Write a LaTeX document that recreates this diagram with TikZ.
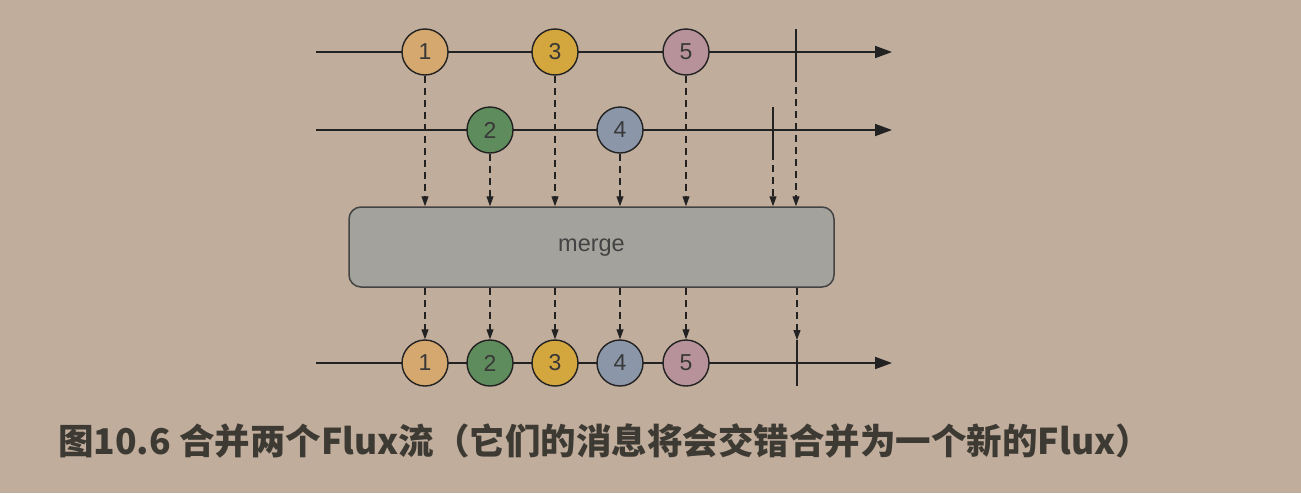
\documentclass[tikz,border=0pt]{standalone}
\usepackage{fontspec}
\setmainfont{Liberation Sans}
\newfontfamily\cjk{Noto Sans CJK SC}
\usetikzlibrary{arrows.meta}
\definecolor{bg}{HTML}{C0AD9C}
\definecolor{ink}{HTML}{222222}
\definecolor{cA}{HTML}{D4A86E}
\definecolor{cB}{HTML}{5F8C5C}
\definecolor{cC}{HTML}{D3A63E}
\definecolor{cD}{HTML}{8B97A8}
\definecolor{cE}{HTML}{B8929A}
\definecolor{boxfill}{HTML}{A3A29C}
\definecolor{captext}{HTML}{3D3A34}
\tikzset{
  marble/.style={circle, draw=ink, line width=1.4pt, minimum size=46pt, inner sep=0pt, font=\fontsize{23}{23}\selectfont, text=ink!90},
  timeline/.style={draw=ink, line width=1.8pt, -{Triangle[length=17pt,width=12pt]}},
  endbar/.style={draw=ink, line width=2.4pt},
  drop/.style={draw=ink, line width=1.1pt, dash pattern=on 7pt off 5pt, -{Triangle[length=10pt,width=7pt]}},
  mergebox/.style={draw=ink!85, line width=1.5pt, fill=boxfill, rounded corners=12pt, minimum width=485pt, minimum height=80pt, font=\fontsize{23.5}{23.5}\selectfont, text=ink!85, text height=9pt, text depth=0pt}
}
\begin{document}
\begin{tikzpicture}[x=1pt,y=-1pt]
\fill[bg] (0,0) rectangle (1301,493);
\useasboundingbox (0,0) rectangle (1301,493);
% timelines
\coordinate (s1) at (316,52); \coordinate (e1) at (892,52);
\coordinate (s2) at (316,130); \coordinate (e2) at (892,130);
\coordinate (s3) at (316,363); \coordinate (e3) at (892,363);
\draw[timeline] (s1) -- (e1);
\draw[timeline] (s2) -- (e2);
\draw[timeline] (s3) -- (e3);
% merge box
\node[mergebox] (m) at (591.5,247) {merge};
% top marbles
\node[marble, fill=cA] (a1) at (425,52) {1};
\node[marble, fill=cC] (a3) at (555,52) {3};
\node[marble, fill=cE] (a5) at (686,52) {5};
\coordinate (b1t) at (796,29); \coordinate (b1b) at (796,75);
\draw[endbar] (b1t) -- (b1b);
\node[marble, fill=cB] (b2) at (490,130) {2};
\node[marble, fill=cD] (b4) at (620,130) {4};
\coordinate (b2t) at (773,107); \coordinate (b2b) at (773,153);
\draw[endbar] (b2t) -- (b2b);
% bottom marbles
\node[marble, fill=cA] (o1) at (425,363) {1};
\node[marble, fill=cB] (o2) at (490,363) {2};
\node[marble, fill=cC] (o3) at (555,363) {3};
\node[marble, fill=cD] (o4) at (620,363) {4};
\node[marble, fill=cE] (o5) at (686,363) {5};
\coordinate (b3t) at (797,340); \coordinate (b3b) at (797,386);
\draw[endbar] (b3t) -- (b3b);
% drops into merge
\draw[drop] (a1.south) -- (a1.south |- m.north);
\draw[drop] (b2.south) -- (b2.south |- m.north);
\draw[drop] (a3.south) -- (a3.south |- m.north);
\draw[drop] (b4.south) -- (b4.south |- m.north);
\draw[drop] (a5.south) -- (a5.south |- m.north);
\draw[drop] (b2b) -- (b2b |- m.north);
\draw[drop] (b1b) -- (b1b |- m.north);
% drops out of merge
\draw[drop] (o1.north |- m.south) -- (o1.north);
\draw[drop] (o2.north |- m.south) -- (o2.north);
\draw[drop] (o3.north |- m.south) -- (o3.north);
\draw[drop] (o4.north |- m.south) -- (o4.north);
\draw[drop] (o5.north |- m.south) -- (o5.north);
\draw[drop] (b3t |- m.south) -- (b3t);
% caption
\node[anchor=west, inner sep=0pt, text=captext, font=\cjk\bfseries\fontsize{35.5}{35.5}\selectfont] (cap) at (58,441) {图10.6 合并两个Flux流（它们的消息将会交错合并为一个新的Flux）};
\end{tikzpicture}
\end{document}
